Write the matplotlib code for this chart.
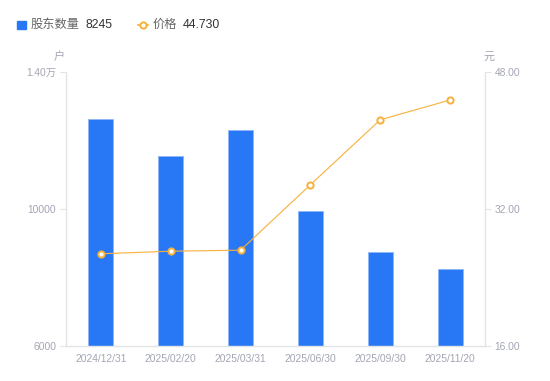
import matplotlib
matplotlib.use("Agg")
import matplotlib.pyplot as plt
from matplotlib.lines import Line2D
from matplotlib.patches import Rectangle
import numpy as np

plt.rcParams["font.family"] = ["Liberation Sans", "Noto Sans CJK SC", "DejaVu Sans"]

# data
dates = ["2024/12/31", "2025/02/20", "2025/03/31", "2025/06/30", "2025/09/30", "2025/11/20"]
holders = [12630, 11560, 12320, 9935, 8740, 8245]
price = [26.77, 27.07, 27.19, 34.83, 42.42, 44.73]

left_ticks = [6000, 10000, 14000]
left_labels = ["6000", "10000", "1.40万"]
right_ticks = [16, 32, 48]
right_labels = ["16.00", "32.00", "48.00"]

bar_color = "#2878f5"
line_color = "#f7b03c"
tick_color = "#a3a6b4"
spine_color = "#e3e4e8"

fig = plt.figure(figsize=(5.5, 3.81), dpi=100)
ax = fig.add_axes([66 / 550, 1 - 346 / 381, (485 - 66) / 550, (346 - 72) / 381])
ax2 = ax.twinx()

x = np.arange(len(dates))
ax.bar(x, holders, width=0.36, color=bar_color, edgecolor="#8fb6f8", linewidth=0.6, zorder=2)
ax.set_xlim(-0.5, len(dates) - 0.5)
ax.set_ylim(6000, 14000)
ax.set_yticks(left_ticks)
ax.set_yticklabels(left_labels)
ax.set_xticks(x)
ax.set_xticklabels(dates)

ax2.plot(x, price, color=line_color, linewidth=0.8, marker="o", markersize=4.5,
         markerfacecolor="white", markeredgecolor=line_color, markeredgewidth=1.4, zorder=3)
ax2.set_ylim(16, 48)
ax2.set_yticks(right_ticks)
ax2.set_yticklabels(right_labels)

for a in (ax, ax2):
    for s in a.spines.values():
        s.set_visible(False)
ax.spines["left"].set_visible(True)
ax.spines["bottom"].set_visible(True)
ax2.spines["right"].set_visible(True)
for s in (ax.spines["left"], ax.spines["bottom"], ax2.spines["right"]):
    s.set_color(spine_color)
    s.set_linewidth(1.0)

ax.tick_params(axis="y", colors=spine_color, labelcolor=tick_color, labelsize=7.4, length=4, pad=3)
ax.tick_params(axis="x", length=0, labelcolor=tick_color, labelsize=7.4, pad=6)
ax2.tick_params(axis="y", colors=spine_color, labelcolor=tick_color, labelsize=7.4, length=4, pad=3)

# unit labels
fig.text(59 / 550, 1 - 57 / 381, "户", color=tick_color, fontsize=8, ha="center", va="center")
fig.text(489 / 550, 1 - 57 / 381, "元", color=tick_color, fontsize=8, ha="center", va="center")

# legend
ly = 1 - 24.5 / 381
fig.patches.append(Rectangle((17 / 550, 1 - 28.5 / 381), 8.5 / 550, 8 / 381,
                             transform=fig.transFigure, color=bar_color))
fig.text(31 / 550, ly, "股东数量", color="#666666", fontsize=8.8, va="center")
fig.text(85 / 550, ly, str(holders[-1]), color="#333333", fontsize=8.8, va="center")
fig.lines.append(Line2D([138 / 550, 148 / 550], [ly, ly], transform=fig.transFigure,
                        color=line_color, linewidth=1.2))
fig.lines.append(Line2D([143 / 550], [ly], transform=fig.transFigure, color=line_color,
                        marker="o", markersize=4.5, markerfacecolor="white",
                        markeredgewidth=1.4, linestyle="none"))
fig.text(153 / 550, ly, "价格", color="#666666", fontsize=8.8, va="center")
fig.text(183 / 550, ly, f"{price[-1]:.3f}", color="#333333", fontsize=8.8, va="center")

fig.savefig("out.png", dpi=100)
